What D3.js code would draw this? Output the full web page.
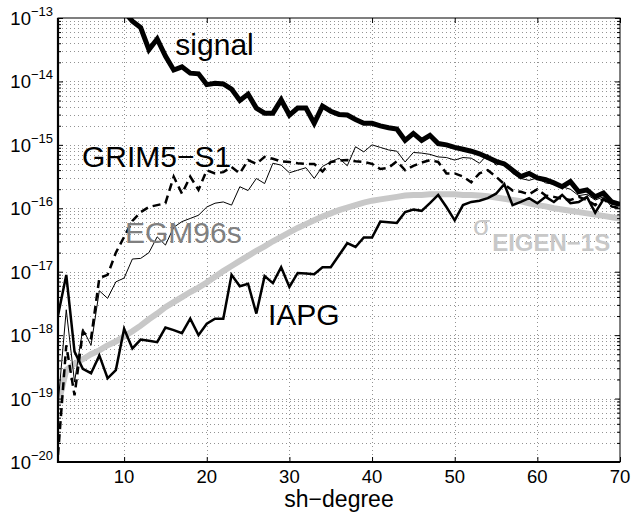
<!DOCTYPE html>
<html>
<head>
<meta charset="utf-8">
<script src="https://cdn.jsdelivr.net/npm/d3@7"></script>
<style>
  body { margin: 0; background: #fff; }
  svg text { font-family: "Liberation Sans", Arial, Helvetica, sans-serif; }
</style>
</head>
<body>
<div id="chart"></div>
<script>
// degree variances, stored as log10 exponents
const degrees = d3.range(2, 71);

const signalExp = [null, null, null, null, null, null, null, null,
  -12.9, -13.05, -13.15, -13.5, -13.33, -13.6, -13.82, -13.77, -13.87, -13.88,
  -14.05, -14.03, -14.04, -14.12, -14.3, -14.2, -14.42, -14.5, -14.5, -14.29,
  -14.53, -14.42, -14.42, -14.66, -14.39, -14.47, -14.52, -14.53, -14.6, -14.66,
  -14.66, -14.7, -14.73, -14.75, -14.93, -14.82, -14.93, -14.85, -14.98, -15.0,
  -15.04, -15.07, -15.1, -15.14, -15.2, -15.26, -15.3, -15.4, -15.5, -15.45,
  -15.52, -15.55, -15.6, -15.66, -15.58, -15.74, -15.71, -15.82, -15.76, -15.9, -15.94];

const grimExp = [-19.89, -18.16, -18.95, -17.95, -18.05, -17.1, -17.05, -16.7,
  -16.45, -16.2, -16.06, -15.98, -15.95, -15.92, -15.5, -15.77, -15.5, -15.71,
  -15.4, -15.45, -15.43, -15.35, -15.45, -15.24, -15.3, -15.19, -15.22, -15.26,
  -15.27, -15.29, -15.3, -15.3, -15.42, -15.27, -15.25, -15.24, -15.26, -15.27,
  -15.3, -15.38, -15.36, -15.26, -15.4, -15.33, -15.28, -15.24, -15.27, -15.45,
  -15.45, -15.5, -15.59, -15.45, -15.4, -15.5, -15.62, -15.72, -15.74, -15.78,
  -15.7, -15.8, -15.82, -15.85, -15.87, -15.82, -15.87, -15.95, -15.85, -15.97, -16.0];

const egmExp = [-19.1, -17.6, -18.74, -17.9, -18.16, -17.3, -17.42, -17.16,
  -17.1, -16.8, -16.79, -16.7, -16.45, -16.58, -16.3, -16.21, -16.16, -16.11,
  -15.98, -15.92, -15.9, -15.95, -15.66, -15.72, -15.53, -15.61, -15.29, -15.32,
  -15.44, -15.4, -15.36, -15.53, -15.34, -15.27, -15.21, -15.33, -15.03, -15.11,
  -15.0, -15.04, -15.08, -15.1, -15.27, -15.12, -15.13, -15.15, -15.19, -15.2,
  -15.24, -15.2, -15.21, -15.29, -15.15, -15.32, -15.27, -15.45, -15.53, -15.56,
  -15.52, -15.6, -15.62, -15.66, -15.7, -15.8, -15.78, -15.87, -15.82, -15.98, -16.0];

const iapgExp = [-17.69, -17.05, -18.26, -18.53, -18.6, -18.32, -18.68, -18.55,
  -17.9, -18.21, -18.07, -18.09, -18.11, -17.88, -17.92, -17.97, -17.74, -18.0,
  -17.82, -17.74, -17.74, -17.05, -17.23, -17.19, -17.66, -17.07, -17.18, -16.93,
  -17.24, -17.02, -17.03, -17.04, -16.93, -16.93, -16.74, -16.55, -16.61, -16.46,
  -16.46, -16.21, -16.22, -16.23, -16.06, -16.02, -16.04, -15.92, -15.79, -15.98,
  -16.19, -15.95, -15.9, -15.88, -15.84, -15.77, -15.62, -15.95, -15.9, -15.84,
  -15.92, -15.82, -15.9, -15.79, -15.92, -15.9, -15.82, -16.07, -15.86, -15.92, -15.95];

const sigmaExp = [-19.1, -18.55, -18.45, -18.38, -18.3, -18.24, -18.16, -18.1,
  -18.02, -17.94, -17.85, -17.75, -17.66, -17.56, -17.48, -17.4, -17.32, -17.25,
  -17.17, -17.08, -16.99, -16.91, -16.83, -16.75, -16.67, -16.6, -16.52, -16.45,
  -16.38, -16.31, -16.25, -16.19, -16.13, -16.08, -16.03, -15.99, -15.95, -15.91,
  -15.88, -15.86, -15.84, -15.82, -15.8, -15.79, -15.79, -15.78, -15.78, -15.78,
  -15.78, -15.79, -15.79, -15.8, -15.81, -15.83, -15.85, -15.87, -15.89, -15.92,
  -15.95, -15.97, -16.0, -16.02, -16.04, -16.06, -16.08, -16.1, -16.12, -16.14, -16.16];

const xTicks = [10, 20, 30, 40, 50, 60, 70];
const yDecades = [-20, -19, -18, -17, -16, -15, -14, -13];

// text labels placed in data space: [degree, exponent]
const labels = [
  { text: "signal", at: [16.2, -13.59], color: "#000" },
  { text: "GRIM5\u2212S1", at: [4.9, -15.35], color: "#000" },
  { text: "EGM96s", at: [10.1, -16.55], color: "#808080" },
  { text: "IAPG", at: [27.4, -17.84], color: "#000" }
];

const width = 632, height = 517;
const margin = { top: 18, right: 12, bottom: 55, left: 58 };
const innerW = width - margin.left - margin.right;
const innerH = height - margin.top - margin.bottom;

const svg = d3.select("#chart").append("svg")
  .attr("width", width)
  .attr("height", height);

const x = d3.scaleLinear().domain([2, 70]).range([0, innerW]);
const y = d3.scaleLog().domain([1e-20, 1e-13]).range([innerH, 0]);

const g = svg.append("g").attr("transform", `translate(${margin.left},${margin.top})`);

g.append("defs").append("clipPath").attr("id", "plot-clip")
  .append("rect").attr("width", innerW).attr("height", innerH);

// minor + major y values
const yMinor = [];
for (let e = -20; e < -13; e++) {
  for (let k = 2; k <= 9; k++) yMinor.push(k * Math.pow(10, e));
}
const yMajor = yDecades.map(e => Math.pow(10, e));

// grid (dotted)
const grid = g.append("g").attr("stroke", "#777").attr("stroke-width", 0.8)
  .attr("stroke-dasharray", "1,3");
grid.selectAll(".hg")
  .data(yMinor.concat(yMajor.slice(1, -1)))
  .join("line")
  .attr("x1", 0).attr("x2", innerW)
  .attr("y1", d => Math.round(y(d)) + 0.5).attr("y2", d => Math.round(y(d)) + 0.5);
grid.selectAll(".vg")
  .data(xTicks.slice(0, -1))
  .join("line")
  .attr("y1", 0).attr("y2", innerH)
  .attr("x1", d => Math.round(x(d)) + 0.5).attr("x2", d => Math.round(x(d)) + 0.5);

// series
const toPts = arr => degrees.map((d, i) => [d, arr[i] == null ? null : Math.pow(10, arr[i])]);
const line = d3.line()
  .defined(d => d[1] != null)
  .x(d => x(d[0]))
  .y(d => y(d[1]));

const series = [
  { data: sigmaExp, stroke: "#c8c8c8", width: 6, dash: null },
  { data: egmExp, stroke: "#000", width: 1, dash: null },
  { data: grimExp, stroke: "#000", width: 2.5, dash: "8,5" },
  { data: iapgExp, stroke: "#000", width: 2.5, dash: null },
  { data: signalExp, stroke: "#000", width: 5, dash: null }
];

const lines = g.append("g").attr("clip-path", "url(#plot-clip)");
lines.selectAll("path")
  .data(series)
  .join("path")
  .attr("fill", "none")
  .attr("stroke", d => d.stroke)
  .attr("stroke-width", d => d.width)
  .attr("stroke-dasharray", d => d.dash)
  .attr("stroke-linejoin", "miter")
  .attr("d", d => line(toPts(d.data)));

// axes: ticks pointing inwards on all four sides
g.append("g").call(d3.axisLeft(y).tickValues(yMajor).tickSize(-5).tickFormat(""));
g.append("g").call(d3.axisLeft(y).tickValues(yMinor).tickSize(-3).tickFormat(""));
g.append("g").attr("transform", `translate(${innerW},0)`)
  .call(d3.axisRight(y).tickValues(yMajor).tickSize(-5).tickFormat(""));
g.append("g").attr("transform", `translate(${innerW},0)`)
  .call(d3.axisRight(y).tickValues(yMinor).tickSize(-3).tickFormat(""));
g.append("g").attr("transform", `translate(0,${innerH})`)
  .call(d3.axisBottom(x).tickValues(xTicks).tickSize(-5).tickFormat(""));
g.append("g").call(d3.axisTop(x).tickValues(xTicks).tickSize(-5).tickFormat(""));
g.selectAll(".domain").remove();
g.selectAll(".tick line").attr("stroke", "#000");

// frame
g.append("rect").attr("width", innerW).attr("height", innerH)
  .attr("fill", "none").attr("stroke", "#000").attr("stroke-width", 1);
g.append("path")
  .attr("d", `M0,0V${innerH}H${innerW}`)
  .attr("fill", "none").attr("stroke", "#000").attr("stroke-width", 2.2);

// tick labels
g.selectAll(".xlab")
  .data(xTicks)
  .join("text")
  .attr("x", d => x(d))
  .attr("y", innerH + 21)
  .attr("text-anchor", "middle")
  .attr("font-size", 18.5)
  .text(d => d);

const ylab = g.selectAll(".ylab")
  .data(yDecades)
  .join("text")
  .attr("x", -5)
  .attr("y", d => y(Math.pow(10, d)) + 7)
  .attr("text-anchor", "end")
  .attr("font-size", 18.5);
ylab.append("tspan").text("10");
ylab.append("tspan").attr("dy", -9).attr("font-size", 13)
  .text(d => "\u2212" + Math.abs(d));

g.append("text")
  .attr("x", innerW / 2)
  .attr("y", innerH + 45)
  .attr("text-anchor", "middle")
  .attr("font-size", 23)
  .text("sh\u2212degree");

// curve labels
g.selectAll(".clab")
  .data(labels)
  .join("text")
  .attr("x", d => x(d.at[0]))
  .attr("y", d => y(Math.pow(10, d.at[1])))
  .attr("font-size", 30)
  .attr("fill", d => d.color)
  .text(d => d.text);

const sig = g.append("text")
  .attr("x", x(52.2))
  .attr("y", y(Math.pow(10, -16.42)))
  .attr("fill", "#c8c8c8")
  .attr("font-size", 28);
sig.append("tspan").text("\u03c3");
sig.append("tspan").attr("dy", 16).attr("dx", 2).attr("font-size", 24)
  .attr("font-weight", "bold").text("EIGEN\u22121S");
</script>
</body>
</html>
